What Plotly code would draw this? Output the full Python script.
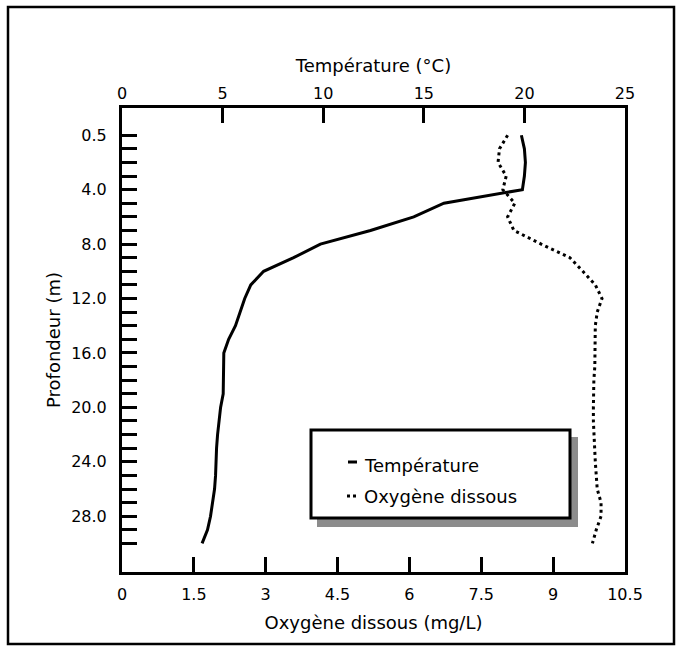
import plotly.graph_objects as go

# ---------------- data ----------------
depths = [0.5] + list(range(1, 31))                      # m (measurement depths)
depth_cats = [f"{d:.1f}" for d in depths]
depth_tick_labels = ["0.5", "4.0", "8.0", "12.0", "16.0", "20.0", "24.0", "28.0"]

temperature = [19.85, 20.0, 20.05, 20.0, 19.9, 16.0, 14.5, 12.35, 9.86, 8.53,
               7.04, 6.4, 6.1, 5.88, 5.64, 5.3, 5.06, 5.05, 5.03, 5.03,
               4.9, 4.81, 4.75, 4.7, 4.68, 4.65, 4.6, 4.5, 4.4, 4.25, 3.98]

oxygen = [8.05, 7.88, 7.85, 8.02, 7.95, 8.2, 8.05, 8.18, 8.75, 9.35,
          9.62, 9.88, 10.02, 9.92, 9.88, 9.88, 9.88, 9.87, 9.85, 9.84,
          9.84, 9.84, 9.85, 9.86, 9.88, 9.9, 9.92, 10.0, 10.0, 9.9, 9.82]

oxy_ticks = [0, 1.5, 3, 4.5, 6, 7.5, 9, 10.5]
oxy_tick_labels = ["0", "1.5", "3", "4.5", "6", "7.5", "9", "10.5"]
temp_ticks = [0, 5, 10, 15, 20, 25]

# ---------------- layout geometry ----------------
W, H = 682, 649
L, R, T, B = 122, 625, 108, 572
FONT = "DejaVu Sans"


def px(x):
    return (x - L) / (R - L)


def py(y):
    return (B - y) / (B - T)


fig = go.Figure()
fig.add_trace(go.Scatter(
    x=temperature, y=depth_cats, xaxis="x2", yaxis="y", mode="lines",
    name="Température", line=dict(color="black", width=3), showlegend=False))
fig.add_trace(go.Scatter(
    x=oxygen, y=depth_cats, xaxis="x", yaxis="y", mode="lines",
    name="Oxygène dissous", line=dict(color="black", width=3, dash="3px,3.5px"),
    showlegend=False))

axis_common = dict(showgrid=False, zeroline=False, showline=True, linecolor="black",
                   linewidth=3, ticks="inside", ticklen=15, tickcolor="black",
                   tickfont=dict(family=FONT, size=16, color="black"))

fig.update_layout(
    width=W, height=H,
    margin=dict(l=L, r=W - R, t=T, b=H - B, pad=0),
    paper_bgcolor="white", plot_bgcolor="white",
    font=dict(family=FONT, color="black"),
    xaxis=dict(**axis_common, range=[0, 10.5], tickmode="array",
               tickvals=oxy_ticks, ticktext=oxy_tick_labels, tickwidth=2.5,
               ticklabelstandoff=6,
               title=dict(text="Oxygène dissous (mg/L)", font=dict(size=18, family=FONT),
                          standoff=14)),
    xaxis2=dict(**axis_common, range=[0, 25], overlaying="x", side="top",
                tickmode="array", tickvals=temp_ticks, tickwidth=2.5,
                ticklabelstandoff=0,
                title=dict(text="Température (°C)", font=dict(size=18, family=FONT),
                           standoff=7)),
    yaxis=dict(**axis_common, type="category", categoryorder="array",
               categoryarray=depth_cats, range=[32.1, -2], mirror=True,
               tickmode="array", tickvals=depth_cats,
               ticktext=[c if c in depth_tick_labels else "" for c in depth_cats],
               tickwidth=3, ticklabelstandoff=9,
               title=dict(text="Profondeur (m)", font=dict(size=18, family=FONT),
                          standoff=6)),
)

shapes = []
# outer frame
shapes.append(dict(type="rect", xref="paper", yref="paper",
                   x0=px(8), x1=px(674), y0=py(644), y1=py(7),
                   line=dict(color="black", width=2.5), fillcolor="rgba(0,0,0,0)"))
# legend shadow
shapes.append(dict(type="rect", xref="paper", yref="paper",
                   x0=px(317), x1=px(578), y0=py(527), y1=py(437),
                   line=dict(width=0), fillcolor="#8c8c8c"))
# legend box
shapes.append(dict(type="rect", xref="paper", yref="paper",
                   x0=px(311), x1=px(570), y0=py(518), y1=py(430),
                   line=dict(color="black", width=3), fillcolor="white"))
# legend symbols
shapes.append(dict(type="line", xref="paper", yref="paper",
                   x0=px(348), x1=px(357), y0=py(462), y1=py(462),
                   line=dict(color="black", width=3)))
shapes.append(dict(type="line", xref="paper", yref="paper",
                   x0=px(347), x1=px(356), y0=py(496), y1=py(496),
                   line=dict(color="black", width=3, dash="3px,3px")))
fig.update_layout(shapes=shapes)

fig.add_annotation(x=px(362), y=py(465), xref="paper", yref="paper",
                   text="Température", showarrow=False, xanchor="left", yanchor="middle",
                   font=dict(family=FONT, size=18, color="black"))
fig.add_annotation(x=px(362), y=py(496), xref="paper", yref="paper",
                   text="Oxygène dissous", showarrow=False, xanchor="left", yanchor="middle",
                   font=dict(family=FONT, size=18, color="black"))

fig.write_html("out.html", config={"displayModeBar": False},
               post_script="document.body.style.margin='0';")
